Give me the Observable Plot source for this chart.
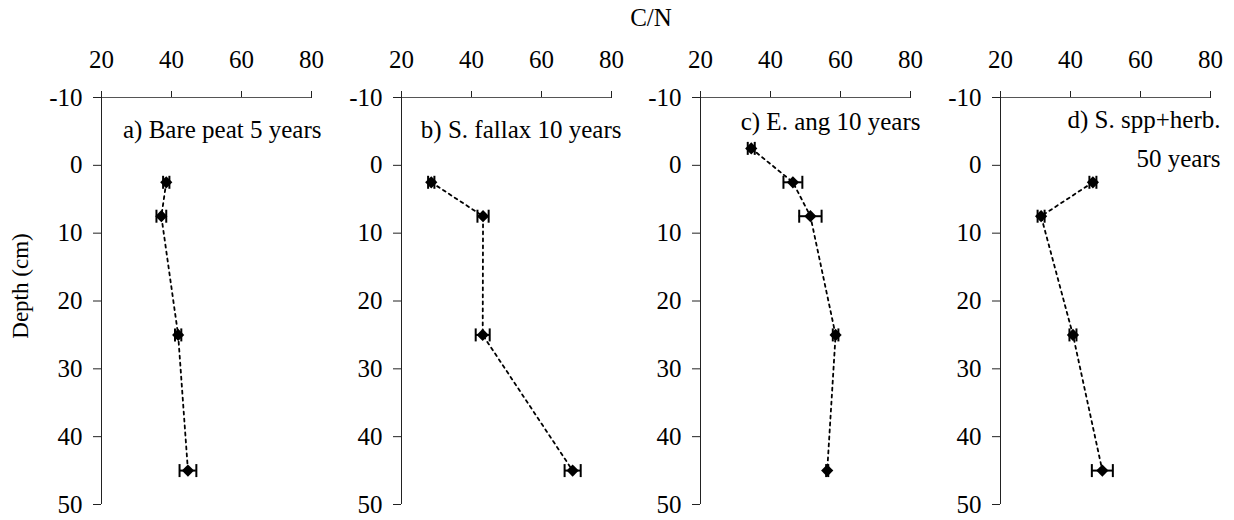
<!DOCTYPE html>
<html>
<head>
<meta charset="utf-8">
<script src="https://cdn.jsdelivr.net/npm/d3@7"></script>
<script src="https://cdn.jsdelivr.net/npm/@observablehq/plot@0.6"></script>
<style>
  body { margin: 0; background: #fff; }
  #wrap { position: relative; width: 1234px; height: 520px; font-family: "Liberation Serif", "Times New Roman", serif; color: #000; }
  .panel { position: absolute; top: 0; }
  #wrap svg, #wrap svg text { font-family: "Liberation Serif", "Times New Roman", serif !important; }
  #title { position: absolute; left: 651px; top: 4px; transform: translateX(-50%); font-size: 25px; line-height: 1.15; white-space: nowrap; font-family: "Liberation Serif", serif; }
  #ylab { position: absolute; left: 21px; top: 286px; font-size: 23px; font-family: "Liberation Serif", serif; transform: translate(-50%, -50%) rotate(-90deg); white-space: nowrap; }
</style>
</head>
<body>
<div id="wrap">
  <div id="title">C/N</div>
  <div id="ylab">Depth (cm)</div>
</div>
<script>
// ---- data ----
const xTicks = [20, 40, 60, 80];
const yTicks = [-10, 0, 10, 20, 30, 40, 50];

const panelLabels = ["a) Bare peat 5 years", "b) S. fallax 10 years", "c) E. ang 10 years", "d) S. spp+herb.\n50 years"];

const depthsA = [2.5, 7.5, 25, 45];
const cnA = [38.5, 37.1, 41.9, 44.7];
const seA = [0.9, 1.4, 0.9, 2.4];

const depthsB = [2.5, 7.5, 25, 45];
const cnB = [28.5, 43.3, 43.2, 68.9];
const seB = [0.9, 1.6, 2.0, 2.3];

const depthsC = [-2.5, 2.5, 7.5, 25, 45];
const cnC = [34.5, 46.4, 51.4, 58.6, 56.2];
const seC = [1.0, 2.7, 3.2, 0.8, 0.3];

const depthsD = [2.5, 7.5, 25, 45];
const cnD = [46.4, 31.6, 40.7, 49.1];
const seD = [1.0, 1.0, 1.0, 3.0];

const panels = [
  {depths: depthsA, cn: cnA, se: seA, left: 21, labelDy: 13},
  {depths: depthsB, cn: cnB, se: seB, left: 321, labelDy: 13},
  {depths: depthsC, cn: cnC, se: seC, left: 620, labelDy: 5},
  {depths: depthsD, cn: cnD, se: seD, left: 920, labelDy: 3}
];

const capSymbol = {
  draw(context, size) {
    const r = Math.sqrt(size / Math.PI);
    context.moveTo(0, -r);
    context.lineTo(0, r);
  }
};

const FONT = '"Liberation Serif", "Times New Roman", serif';
const fmt = d => String(d);
const wrap = document.getElementById("wrap");

panels.forEach((p, i) => {
  const rows = p.depths.map((d, j) => ({depth: d, cn: p.cn[j], lo: p.cn[j] - p.se[j], hi: p.cn[j] + p.se[j]}));
  const chart = Plot.plot({
    width: 304,
    height: 520,
    marginLeft: 80,
    marginRight: 14,
    marginTop: 97,
    marginBottom: 16,
    style: `font-family: ${FONT}; font-size: 25px; color: #000; background: transparent; overflow: visible;`,
    x: {domain: [20, 80]},
    y: {domain: [-10, 50], reverse: true},
    marks: [
      Plot.axisX({anchor: "top", ticks: xTicks, tickSize: 7, tickPadding: 23, tickFormat: fmt, label: null, stroke: "#222", fontFamily: FONT, fontSize: 25}),
      Plot.axisY({anchor: "left", ticks: yTicks, tickSize: 8, tickPadding: 11, tickFormat: fmt, label: null, stroke: "#222", fontFamily: FONT, fontSize: 25}),
      Plot.ruleY([-10], {stroke: "#555", strokeWidth: 1}),
      Plot.ruleX([20], {stroke: "#222", strokeWidth: 1}),
      Plot.line(rows, {x: "cn", y: "depth", stroke: "#000", strokeWidth: 1.8, strokeDasharray: "3,4"}),
      Plot.ruleY(rows, {y: "depth", x1: "lo", x2: "hi", stroke: "#000", strokeWidth: 2}),
      Plot.dot(rows, {x: "lo", y: "depth", symbol: capSymbol, r: 6.5, stroke: "#000", strokeWidth: 2, fill: "none"}),
      Plot.dot(rows, {x: "hi", y: "depth", symbol: capSymbol, r: 6.5, stroke: "#000", strokeWidth: 2, fill: "none"}),
      Plot.dot(rows, {x: "cn", y: "depth", symbol: "diamond2", r: 5.5, fill: "#000", stroke: "none"}),
      Plot.text([panelLabels[i]], {frameAnchor: "top-right", dx: 10, dy: p.labelDy, text: d => d, textAnchor: "end", lineAnchor: "top", lineHeight: 1.55, fontSize: 25, fontFamily: FONT, fill: "#000"})
    ]
  });
  chart.classList.add("panel");
  chart.style.left = p.left + "px";
  chart.style.fontFamily = FONT;
  wrap.appendChild(chart);
});
</script>
</body>
</html>
